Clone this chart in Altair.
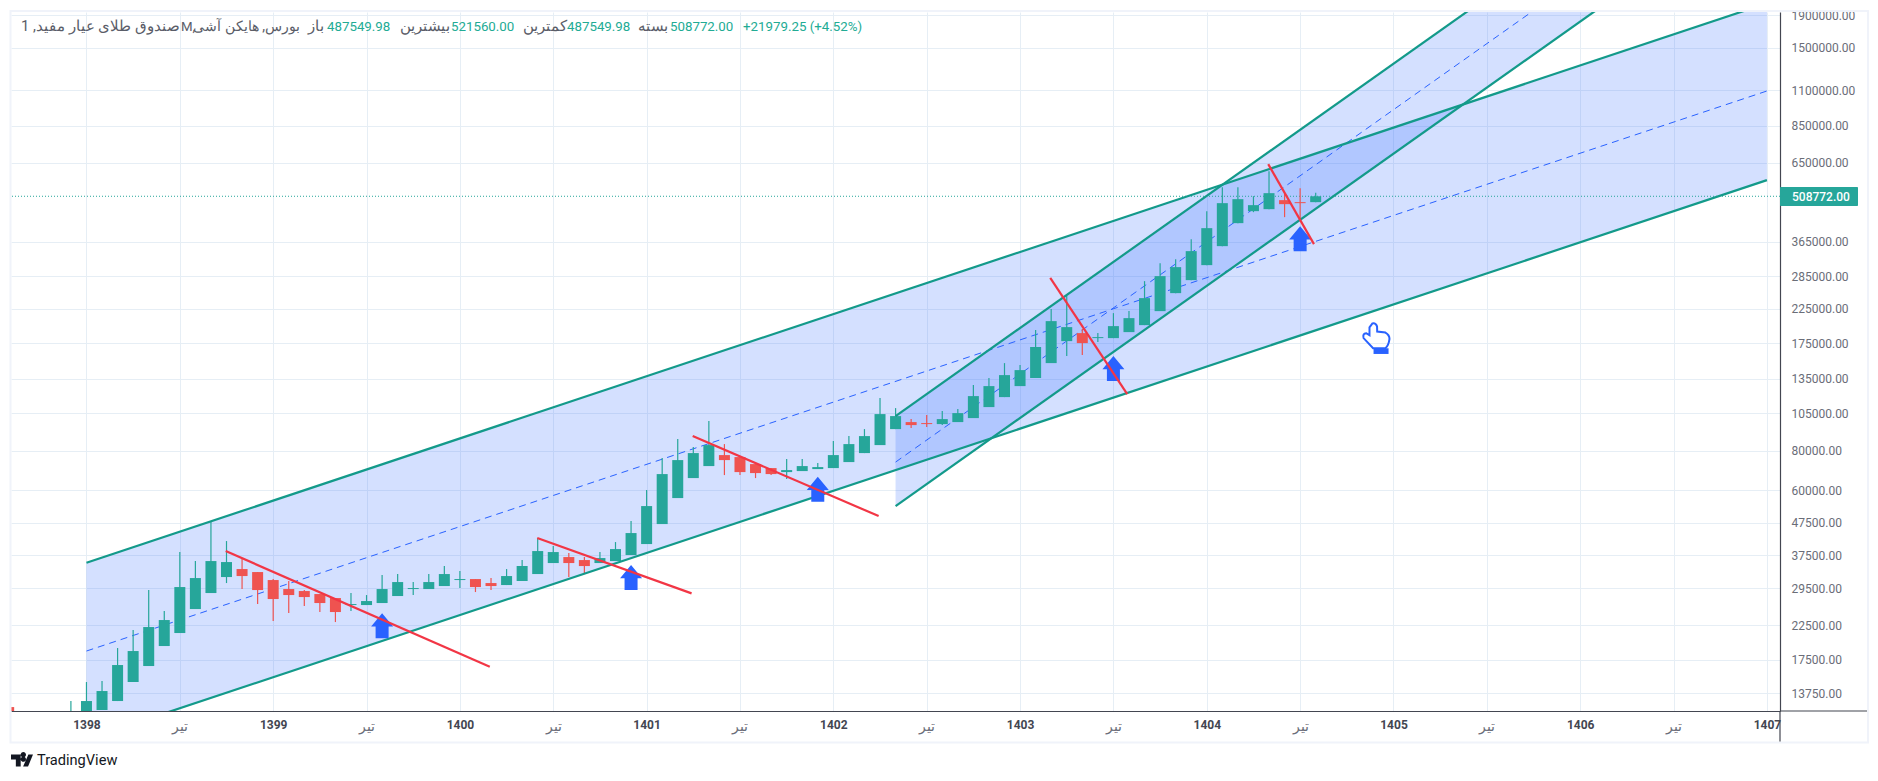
import altair as alt
import pandas as pd

# ---------- data ----------
bar_index = [-5, -1] + list(range(0, 80))
opens = [12420, 11500, 11800, 12156, 12977, 14899, 16736, 19354, 21272, 25325, 28448, 31955, 33868, 33137, 31266, 29287,
         28864, 28242, 27433, 26072, 26072, 26454, 27835, 29287, 29287, 29933, 31266, 31494, 30592, 30151, 31040, 32660,
         35378, 36954, 36157, 35378, 35895, 37495, 40615, 46968, 56736, 65610, 71588, 77545, 76426, 72636, 70555, 68532,
         69033, 70044, 70555, 73699, 78680, 83389, 93671, 98560, 97854, 97138, 98560, 101466, 109911, 118195, 128031,
         135693, 151319, 177550, 188179, 181464, 181464, 189548, 199442, 220797, 251654, 276586, 308438, 354104, 418516,
         456651, 463337, 494654, 487518, 487549.98]
highs = [12420, 12977, 14899, 15008, 19075, 21741, 29075, 24960, 38321, 35895, 47655, 41510, 36421, 33137, 31494, 31040,
         29075, 28242, 27433, 28448, 28037, 32423, 32660, 30815, 32660, 34615, 33379, 31494, 31724, 33868, 36157, 42425,
         40029, 38044, 36954, 38321, 41209, 48003, 60131, 75873, 87105, 82187, 99278, 83997, 76426, 72636, 70555, 75323,
         75323, 73166, 85848, 89026, 93671, 117338, 109114, 100731, 103700, 106760, 108324, 128964, 135693, 151319, 149136,
         192326, 224032, 246229, 193728, 188179, 217611, 220797, 274582, 312955, 322183, 372581, 456651, 543670, 543670,
         509243, 610688, 520470, 539725, 521560]
lows = [11000, 11000, 11700, 12156, 12977, 14899, 16736, 19354, 21272, 25325, 28448, 30592, 29287, 26262, 23210, 24600,
        25883, 24779, 23042, 24960, 26072, 26454, 27835, 28037, 29287, 29933, 29501, 28655, 29075, 30151, 31040, 32660,
        35378, 31955, 32898, 35378, 35895, 37495, 40615, 46968, 56736, 65610, 71588, 67055, 67055, 65610, 67055, 65134,
        69033, 70044, 70555, 73699, 78680, 83389, 93671, 94357, 95043, 96434, 98560, 101466, 109911, 118195, 128031,
        135693, 151319, 159214, 160376, 176268, 181464, 189548, 199442, 220797, 251654, 276586, 308438, 354104, 418516,
        453343, 463337, 437171, 430862, 487549.98]
closes = [11500, 12000, 12977, 13955, 16858, 18663, 22220, 23380, 29716, 31724, 35895, 35635, 32188, 29075, 27234, 28037,
          27633, 26454, 24779, 26262, 26841, 29287, 30815, 29501, 30815, 32660, 31494, 29716, 29933, 32188, 34615, 38601,
          38321, 35378, 34615, 36686, 39165, 43995, 53532, 67544, 74778, 78680, 83389, 74778, 68532, 68037, 67544, 69537,
          71588, 71070, 77545, 83997, 89026, 104458, 102952, 96434, 97138, 100731, 105218, 119056, 128031, 138683, 143815,
          169978, 205322, 196566, 174990, 182788, 197998, 209850, 242675, 284744, 303992, 341464, 403586, 483988, 498260,
          477005, 520470, 480481, 483988, 508772]

big_n = [0, 108]
big_top = [35456, 2068600]
big_mid = [18663, 1093700]
big_bot = [9826, 572030]
ch2_n = [52, 100]
ch2_top = [102951, 4799000]
ch2_mid = [73699, 3435500]
ch2_bot = [53532, 2495300]

red_n = [[8.95, 25.92], [28.97, 38.89], [38.96, 50.91], [61.94, 66.89], [75.95, 78.89]]
red_v = [[38601, 16652], [42425, 28385], [89026, 49779], [281230, 120800], [642600, 359300]]

arrow_n = [19, 35, 47, 66, 78]
arrow_v = [22432, 31838, 60438, 145400, 373950]
hand_n, hand_v = 82.9, 181465
cuff_n, cuff_v = 83.2, 165106

y_ticks = [1900000, 1500000, 1100000, 850000, 650000, 365000, 285000, 225000, 175000, 135000, 105000,
           80000, 60000, 47500, 37500, 29500, 22500, 17500, 13750]
x_ticks = list(range(0, 109, 6))
last_close = 508772

header_gray = ["صندوق طلای عیار مفید, 1", "M,", "بورس, هایکن آشی", "باز", "بیشترین", "کمترین", "بسته"]
header_green = ["487549.98", "521560.00", "487549.98", "508772.00", "+21979.25 (+4.52%)"]

# ---------- layout ----------
PX, PY = 11, 12
W, H = 1769, 699
FONT = "Roboto"
TEAL = "#139a8a"
UP = "#26a69a"
DOWN = "#ef5350"
RED = "#f23645"
BLUE = "#2962ff"
GRID = "#e6eef5"
INK = "#5a5d68"
AXIS_LINE = "#434651"
FRAME = "#f0f3fa"
AR = 14.8

xs = alt.Scale(domain=[-4.85, 108.84], nice=False, zero=False, padding=0)
ys = alt.Scale(type="log", domain=[12070, 1941900], nice=False, zero=False)
x_axis = alt.Axis(values=x_ticks, title=None, ticks=False, grid=True, gridColor=GRID, gridWidth=1,
                  domainColor=AXIS_LINE, domainWidth=1.2, labelOverlap=False, labelFlush=False, labelPadding=8,
                  labelFont=FONT,
                  labelFontSize=alt.expr("datum.value % 12 === 0 ? 12 : 14"),
                  labelExpr="datum.value % 12 === 0 ? toString(1398 + datum.value / 12) : 'تیر'",
                  labelFontWeight=alt.expr("datum.value % 12 === 0 ? 700 : 400"),
                  labelColor=alt.expr("datum.value % 12 === 0 ? '#434651' : '#6a6d78'"))
y_axis = alt.Axis(values=y_ticks, orient="right", title=None, ticks=False, grid=True, gridColor=GRID, gridWidth=1,
                  domainColor=AXIS_LINE, domainWidth=1.2, labelOverlap=False, labelFlush=False, labelPadding=11,
                  labelFont=FONT, labelFontSize=12, labelColor="#6a6d78", format=".2f")
X = alt.X("n:Q", scale=xs, axis=x_axis)
Y = alt.Y("v:Q", scale=ys, axis=y_axis)


def seg_df(ns, vs, key=0):
    return pd.DataFrame({"n": ns, "v": vs, "k": [key] * len(ns)})


def label(text, px, py, color=INK, size=13.3, align="left", weight=400):
    return alt.Chart(pd.DataFrame({"t": [text]})).mark_text(
        font=FONT, fontSize=size, color=color, align=align, baseline="middle", fontWeight=weight
    ).encode(x=alt.value(px - PX), y=alt.value(py - PY), text="t:N")


candles = pd.DataFrame({"n": bar_index, "o": opens, "h": highs, "l": lows, "c": closes})
candles["up"] = candles["c"] >= candles["o"]
color = alt.condition("datum.up", alt.value(UP), alt.value(DOWN))

base = alt.Chart(pd.DataFrame({"n": [0], "v": [last_close]})).mark_point(opacity=0).encode(x=X, y=Y)


def fill(ns, top, bot):
    df = pd.DataFrame({"n": ns, "v": top, "b": bot})
    return alt.Chart(df).mark_area(color=BLUE, opacity=0.2, clip=True, interpolate="linear").encode(
        x=X, y=Y, y2=alt.Y2("b:Q"))


def lines(frames, col, width, dash=None):
    df = pd.concat(frames)
    kw = dict(strokeDash=dash) if dash else {}
    return alt.Chart(df).mark_line(color=col, strokeWidth=width, clip=True, **kw).encode(
        x=X, y=Y, detail="k:N")


fills = [fill(big_n, big_top, big_bot), fill(ch2_n, ch2_top, ch2_bot)]
dashed = lines([seg_df(big_n, big_mid, 0), seg_df(ch2_n, ch2_mid, 1)], BLUE, 1, [7, 5])
dotted = alt.Chart(pd.DataFrame({"v": [last_close]})).mark_rule(
    color=UP, strokeWidth=1, strokeDash=[1, 2]).encode(y=Y)
wicks = alt.Chart(candles).mark_rule(strokeWidth=1.2, clip=True).encode(
    x=X, y=alt.Y("h:Q", scale=ys, axis=y_axis), y2=alt.Y2("l:Q"), color=color)
bodies = alt.Chart(candles).mark_bar(size=11, clip=True, orient="vertical").encode(
    x=X, y=alt.Y("o:Q", scale=ys, axis=y_axis), y2=alt.Y2("c:Q"), color=color)
teal = lines([seg_df(big_n, big_top, 0), seg_df(big_n, big_bot, 1),
              seg_df(ch2_n, ch2_top, 2), seg_df(ch2_n, ch2_bot, 3)], TEAL, 2.2)
reds = lines([seg_df(a, b, i) for i, (a, b) in enumerate(zip(red_n, red_v))], RED, 2.2)

ARROW = "M0,-1 L0.88,0.06 L0.52,0.06 L0.52,1 L-0.52,1 L-0.52,0.06 L-0.88,0.06 Z"
arrows = alt.Chart(pd.DataFrame({"n": arrow_n, "v": arrow_v})).mark_point(
    shape=ARROW, size=625, filled=True, color=BLUE, opacity=1).encode(x=X, y=Y)

HAND = ("M-0.42,-0.66 L-0.24,-0.9 Q-0.05,-0.95 0.04,-0.72 L0.05,-0.4 L0.55,-0.34 Q0.8,-0.2 0.8,0.05 "
        "Q0.75,0.45 0.55,0.62 L-0.2,0.62 L-0.78,0 Q-0.85,-0.28 -0.62,-0.3 L-0.42,-0.18 Z")
hand = alt.Chart(pd.DataFrame({"n": [hand_n], "v": [hand_v]})).mark_point(
    shape=HAND, size=1076, filled=False, stroke=BLUE, strokeWidth=2, opacity=1, fill="white", fillOpacity=0
).encode(x=X, y=Y)
CUFF = "M-1,-0.38 L1,-0.38 L1,0.38 L-1,0.38 Z"
cuff = alt.Chart(pd.DataFrame({"n": [cuff_n], "v": [cuff_v]})).mark_point(
    shape=CUFF, size=225, color=BLUE, opacity=1, filled=True
).encode(x=X, y=Y)

frame = alt.Chart(pd.DataFrame({"a": [0]})).mark_rect(fillOpacity=0, stroke=FRAME, strokeWidth=2).encode(
    x=alt.value(10.5 - PX), x2=alt.value(1868 - PX), y=alt.value(11 - PY), y2=alt.value(742.5 - PY))
vline = alt.Chart(pd.DataFrame({"a": [0]})).mark_rule(color=AXIS_LINE, strokeWidth=1.2).encode(
    x=alt.value(W), y=alt.value(H), y2=alt.value(741.5 - PY))
hline = alt.Chart(pd.DataFrame({"a": [0]})).mark_rule(color=AXIS_LINE, strokeWidth=1.2).encode(
    x=alt.value(W), x2=alt.value(1867 - PX), y=alt.value(H))

price_box = alt.Chart(pd.DataFrame({"v": [last_close]})).mark_rect(color=UP, cornerRadius=1).encode(
    x=alt.value(W), x2=alt.value(1858 - PX), y=alt.value(187 - PY), y2=alt.value(206 - PY))
price_text = label(f"{last_close:.2f}", 1792, 196.7, color="white", size=12, weight=500)

head = [
    label(header_gray[0], 21, 27, size=AR),
    label(header_gray[1], 181, 27),
    label(header_gray[2], 193, 27, size=14.4),
    label(header_gray[3], 308, 27, size=AR),
    label(header_green[0], 327, 27, "#22ab94"),
    label(header_gray[4], 400, 27, size=AR),
    label(header_green[1], 451, 27, "#22ab94"),
    label(header_gray[5], 523, 27, size=AR),
    label(header_green[2], 567, 27, "#22ab94"),
    label(header_gray[6], 638, 27, size=AR),
    label(header_green[3], 670, 27, "#22ab94"),
    label(header_green[4], 743, 27, "#22ab94"),
]

LOGO = ("M-1,-0.55 L-0.12,-0.55 L-0.12,0.55 L-0.56,0.55 L-0.56,-0.1 L-1,-0.1 Z "
        "M0.58,-0.55 L1,-0.55 L0.55,0.55 L0.1,0.55 Z "
        "M0.25,-0.32 A0.24,0.24 0 1 1 -0.01,-0.32 A0.24,0.24 0 1 1 0.25,-0.32 Z")
logo = alt.Chart(pd.DataFrame({"a": [0]})).mark_point(
    shape=LOGO, size=484, filled=True, color="#131722", opacity=1
).encode(x=alt.value(22 - PX), y=alt.value(760.5 - PY))
logo_text = label("TradingView", 37, 760.5, color="#131722", size=14.6)

chart = alt.layer(
    base, *fills, dashed, dotted, wicks, bodies, teal, arrows, reds, hand, cuff,
    frame, vline, hline, price_box, price_text, *head, logo, logo_text
).properties(
    width=W, height=H, background="white",
    autosize=alt.AutoSizeParams(type="none"),
    padding={"left": 3, "top": 4, "right": 90, "bottom": 60},
).configure_view(strokeWidth=0)

chart.save("out.html", embed_options={"renderer": "svg", "actions": False})
